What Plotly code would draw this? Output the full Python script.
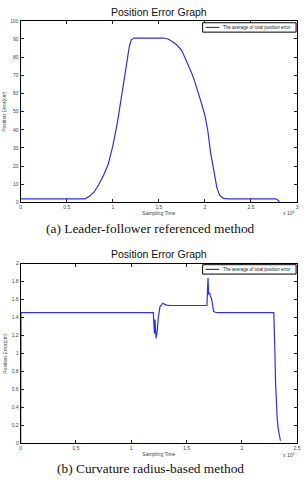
import plotly.graph_objects as go

# ---- data (sampling time in steps, position error) ----
top_t = [0, 7000, 7500, 8000, 8500, 9000, 9500, 10000, 10500, 11000, 11500, 11800, 12000, 12300,
         15500, 16000, 16500, 17000, 17500, 18000, 18500, 18800, 19200, 19600, 20000, 20300,
         20600, 21000, 21300, 21600, 22000, 22500, 27700, 28000, 28100]
top_err = [2, 2, 3.5, 6, 10, 15, 21, 31, 44, 60, 77, 86, 89.5, 90.5,
           90.5, 90, 88.5, 86.5, 83.5, 78, 72, 68, 62, 55, 48, 40,
           28, 16, 8, 4, 2.3, 2, 2, 1, 0]

bot_t = [0, 30, 12000, 12050, 12100, 12150, 12200, 12250, 12350, 12450, 12600, 12850, 13000,
         13200, 13500, 16850, 16900, 16950, 17000, 17100, 17150, 17250, 17350, 17450, 17600,
         17800, 22900, 22950, 23000, 23050, 23100, 23200, 23300, 23400, 23500]
bot_err = [0, 1.455, 1.455, 1.30, 1.22, 1.38, 1.25, 1.17, 1.25, 1.40, 1.52, 1.56, 1.55,
           1.54, 1.535, 1.535, 1.70, 1.84, 1.66, 1.67, 1.64, 1.62, 1.55, 1.47, 1.46,
           1.455, 1.455, 1.3, 1.0, 0.7, 0.45, 0.28, 0.16, 0.08, 0.03]

legend_name = "The average of total position error"
title_text = "Position Error Graph"
xlabel = "Sampling Time"
ylabel = "Position Error(cm)"
captions = ["(a) Leader-follower referenced method", "(b) Curvature radius-based method"]
top_xticks = [0, 0.5, 1, 1.5, 2, 2.5, 3]
top_yticks = [0, 10, 20, 30, 40, 50, 60, 70, 80, 90, 100]
bot_xticks = [0, 0.5, 1, 1.5, 2, 2.5]
bot_yticks = [0, 0.2, 0.4, 0.6, 0.8, 1, 1.2, 1.4, 1.6, 1.8, 2]
scale = 1e4

W, H = 304, 482
LINE = "#2f2fe6"

def py(p):  # pixel y -> paper
    return 1 - p / H

def px(p):
    return p / W

fig = go.Figure()
fig.add_trace(go.Scatter(x=[t / scale for t in top_t], y=top_err, mode="lines",
                         line=dict(color=LINE, width=1.2), name=legend_name,
                         xaxis="x", yaxis="y", showlegend=False))
fig.add_trace(go.Scatter(x=[t / scale for t in bot_t], y=bot_err, mode="lines",
                         line=dict(color=LINE, width=1.2), name=legend_name,
                         xaxis="x2", yaxis="y2", showlegend=False))

lblfont = dict(family="Liberation Sans", size=5, color="#444")
axcommon = dict(showgrid=False, zeroline=False, showline=True, linecolor="black", linewidth=1,
                mirror="ticks", ticks="inside", ticklen=3, tickcolor="#222",
                tickfont=lblfont, ticklabeloverflow="allow")
xd = [px(20), px(301)]

fig.update_layout(
    width=W, height=H, margin=dict(l=0, r=0, t=0, b=0),
    paper_bgcolor="white", plot_bgcolor="white", showlegend=False,
    xaxis=dict(domain=xd, range=[0, 3], tickvals=top_xticks,
               ticktext=[("%g" % v) for v in top_xticks], anchor="y",
               title=dict(text=xlabel, font=lblfont, standoff=2), **axcommon),
    yaxis=dict(domain=[py(202), py(18)], range=[0, 100], tickvals=top_yticks,
               ticktext=[("%g" % v) for v in top_yticks], anchor="x",
               title=dict(text=ylabel, font=lblfont, standoff=3), **axcommon),
    xaxis2=dict(domain=xd, range=[0, 2.5], tickvals=bot_xticks,
                ticktext=[("%g" % v) for v in bot_xticks], anchor="y2",
                title=dict(text=xlabel, font=lblfont, standoff=2), **axcommon),
    yaxis2=dict(domain=[py(446), py(264)], range=[0, 2], tickvals=bot_yticks,
                ticktext=[("%g" % v) for v in bot_yticks], anchor="x2",
                title=dict(text=ylabel, font=lblfont, standoff=3), **axcommon),
)

ann = []
shapes = []
for ty in (9, 254):
    ann.append(dict(text=title_text, x=0.53, y=py(ty), xref="paper", yref="paper",
                    showarrow=False, font=dict(family="Liberation Sans", size=10.5, color="#111"),
                    xanchor="center", yanchor="middle"))
for cy, cap in zip((228, 471), captions):
    ann.append(dict(text=cap, x=0.5, y=py(cy), xref="paper", yref="paper",
                    showarrow=False, font=dict(family="Liberation Serif", size=13.4, color="#111"),
                    xanchor="center", yanchor="middle"))
for ey in (213, 458):
    ann.append(dict(text="x 10<sup>4</sup>", x=px(300), y=py(ey), xref="paper", yref="paper",
                    showarrow=False, font=dict(family="Liberation Sans", size=5, color="#444"),
                    xanchor="right", yanchor="middle"))
# legends (box + sample line + text)
for top in (20, 265):
    shapes.append(dict(type="rect", xref="paper", yref="paper", x0=px(205), x1=px(300),
                       y0=py(top + 9.5), y1=py(top), line=dict(color="black", width=1),
                       fillcolor="white", layer="above"))
    shapes.append(dict(type="line", xref="paper", yref="paper", x0=px(208), x1=px(222),
                       y0=py(top + 4.75), y1=py(top + 4.75), line=dict(color=LINE, width=1.2),
                       layer="above"))
    ann.append(dict(text=legend_name, x=px(224), y=py(top + 4.75), xref="paper", yref="paper",
                    showarrow=False, font=dict(family="Liberation Sans", size=4.5, color="#222"),
                    xanchor="left", yanchor="middle"))
fig.update_layout(annotations=ann, shapes=shapes)

fig.write_html("out.html")
